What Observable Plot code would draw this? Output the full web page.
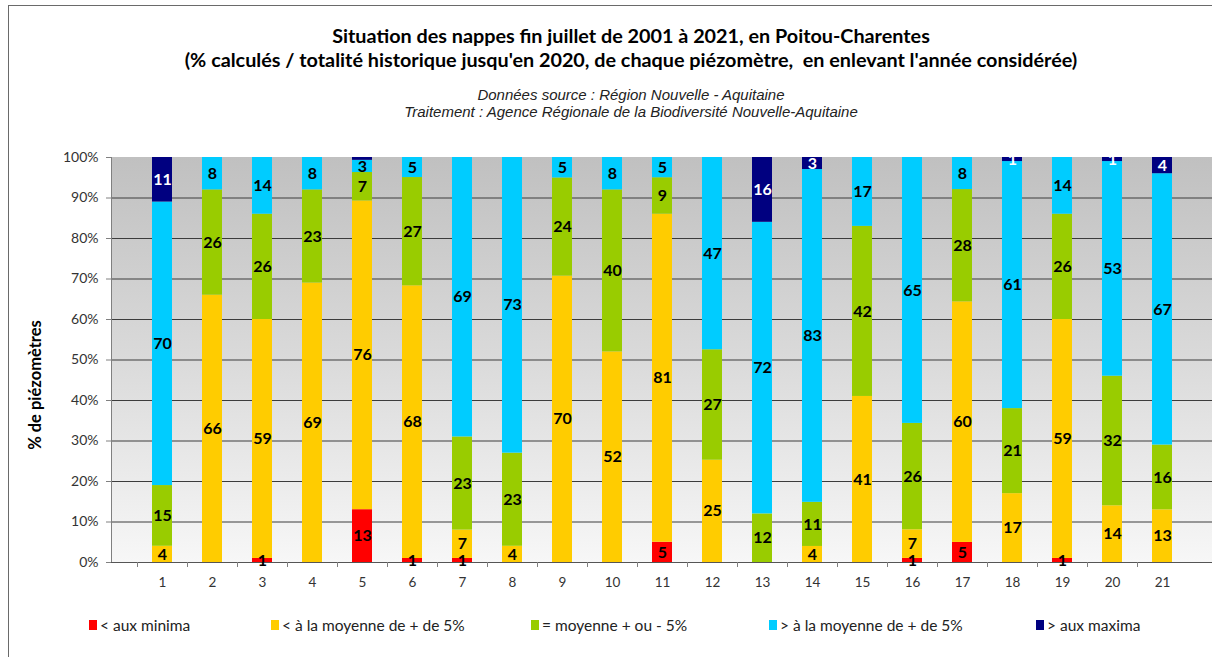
<!DOCTYPE html>
<html>
<head>
<meta charset="utf-8">
<script src="https://cdn.jsdelivr.net/npm/d3@7"></script>
<script src="https://cdn.jsdelivr.net/npm/@observablehq/plot@0.6"></script>
<style>
  html, body { margin: 0; padding: 0; background: #fff; }
  #wrap { position: relative; width: 1212px; height: 657px; overflow: hidden; font-family: Lato, "Open Sans", sans-serif; }
  #border { position: absolute; left: 8px; top: 5px; width: 1300px; height: 700px; border-left: 1px solid #6a6a6a; border-top: 1px solid #6a6a6a; box-sizing: border-box; pointer-events: none; }
  .t { position: absolute; left: 0; width: 1262px; text-align: center; color: #000; white-space: pre; }
  .t1 { font-weight: bold; font-size: 19.8px; }
  .t2 { font-style: italic; font-size: 15px; font-family: "Liberation Sans", Arial, sans-serif; color: #222; }
  #chart { position: absolute; left: 0; top: 140px; }
  #ytitle { position: absolute; left: 35px; top: 385px; transform: translate(-50%, -50%) rotate(-90deg); font-weight: bold; font-size: 16.5px; white-space: nowrap; color: #000; }
  .lg { position: absolute; top: 616px; font-size: 15.5px; color: #222; display: flex; align-items: center; white-space: nowrap; }
  .sw { width: 8px; height: 10px; margin-right: 3px; }
</style>
</head>
<body>
<div id="wrap">
  <div class="t t1" style="top:23px">Situation des nappes fin juillet de 2001 à 2021, en Poitou-Charentes</div>
  <div class="t t1" style="top:47px">(% calculés / totalité historique jusqu'en 2020, de chaque piézomètre,  en enlevant l'année considérée)</div>
  <div class="t t2" style="top:86px">Données source : Région Nouvelle - Aquitaine</div>
  <div class="t t2" style="top:103px">Traitement : Agence Régionale de la Biodiversité Nouvelle-Aquitaine</div>
  <div id="chart"></div>
  <div id="ytitle">% de piézomètres</div>
  <div id="legend"></div>
  <div id="border"></div>
</div>
<script>
const years = ["1","2","3","4","5","6","7","8","9","10","11","12","13","14","15","16","17","18","19","20","21"];
const categories = ["< aux minima", "< à la moyenne de + de 5%", "= moyenne + ou - 5%", "> à la moyenne de + de 5%", "> aux maxima"];
const colors = ["#ff0000", "#ffcc00", "#99cc00", "#00ccff", "#000080"];

const minima  = [0, 0, 1, 0, 13, 1, 1, 0, 0, 0, 5, 0, 0, 0, 0, 1, 5, 0, 1, 0, 0];
const below   = [4, 66, 59, 69, 76, 68, 7, 4, 70, 52, 81, 25, 0, 4, 41, 7, 60, 17, 59, 14, 13];
const average = [15, 26, 26, 23, 7, 27, 23, 23, 24, 40, 9, 27, 12, 11, 42, 26, 28, 21, 26, 32, 16];
const above   = [70, 8, 14, 8, 3, 5, 69, 73, 5, 8, 5, 47, 72, 83, 17, 65, 8, 61, 14, 53, 67];
const maxima  = [11, 0, 0, 0, 0.7, 0, 0, 0, 0, 0, 0, 0, 16, 3, 0, 0, 0, 1, 0, 1, 4];

const yTicks = [0, 0.1, 0.2, 0.3, 0.4, 0.5, 0.6, 0.7, 0.8, 0.9, 1];
const gridTicks = [0.1, 0.2, 0.3, 0.4, 0.5, 0.6, 0.7, 0.8, 0.9];

const series = [minima, below, average, above, maxima];
const data = [];
years.forEach((y, i) => {
  categories.forEach((c, k) => {
    data.push({x: y, cat: c, value: series[k][i]});
  });
});

const bgMark = (index, scales, values, dims) => {
  const ns = "http://www.w3.org/2000/svg";
  const g = document.createElementNS(ns, "g");
  const defs = document.createElementNS(ns, "defs");
  const lg = document.createElementNS(ns, "linearGradient");
  lg.setAttribute("id", "bggrad");
  lg.setAttribute("x1", "0"); lg.setAttribute("y1", "0");
  lg.setAttribute("x2", "0"); lg.setAttribute("y2", "1");
  [["0", "#c0c0c0"], ["0.5", "#dadada"], ["1", "#f7f7f7"]].forEach(([o, c]) => {
    const s = document.createElementNS(ns, "stop");
    s.setAttribute("offset", o); s.setAttribute("stop-color", c);
    lg.appendChild(s);
  });
  defs.appendChild(lg);
  g.appendChild(defs);
  const r = document.createElementNS(ns, "rect");
  r.setAttribute("x", dims.marginLeft);
  r.setAttribute("y", dims.marginTop);
  r.setAttribute("width", dims.width - dims.marginLeft - dims.marginRight);
  r.setAttribute("height", dims.height - dims.marginTop - dims.marginBottom);
  r.setAttribute("fill", "url(#bggrad)");
  g.appendChild(r);
  return g;
};

const axisMark = (index, scales, values, dims) => {
  const ns = "http://www.w3.org/2000/svg";
  const g = document.createElementNS(ns, "g");
  g.setAttribute("stroke", "#808080");
  const x0 = dims.marginLeft + 0.5;
  const yb = dims.height - dims.marginBottom;
  const v = document.createElementNS(ns, "line");
  v.setAttribute("x1", x0); v.setAttribute("x2", x0);
  v.setAttribute("y1", dims.marginTop); v.setAttribute("y2", yb);
  g.appendChild(v);
  const xs = scales.x;
  const step = xs.step ? xs.step() : (xs.bandwidth() / 0.4);
  const bw = xs.bandwidth();
  const bounds = years.map(y => xs(y) + bw / 2 - step / 2);
  bounds.forEach(b => {
    const t = document.createElementNS(ns, "line");
    const bx = Math.round(b) + 0.5;
    t.setAttribute("x1", bx); t.setAttribute("x2", bx);
    t.setAttribute("y1", yb); t.setAttribute("y2", yb + 5);
    g.appendChild(t);
  });
  return g;
};

const chart = Plot.plot({
  width: 1212,
  height: 460,
  marginLeft: 111,
  marginRight: 0,
  marginTop: 17,
  marginBottom: 38,
  style: {fontFamily: "Lato, 'Open Sans', sans-serif", fontSize: "13px", background: "transparent", overflow: "visible"},
  x: {domain: years, padding: 0.6, label: null},
  y: {domain: [0, 1], label: null},
  color: {domain: categories, range: colors},
  marks: [
    bgMark,
    Plot.gridY(gridTicks, {stroke: "#3c3c3c", strokeOpacity: 1, strokeWidth: 1}),
    Plot.barY(data, {x: "x", y: "value", fill: "cat", offset: "normalize", order: null}),
    Plot.ruleY([0], {stroke: "#555"}),
    axisMark,
    Plot.text(data, Plot.stackY({
      x: "x", y: "value", z: "cat", offset: "normalize", order: null,
      text: d => d.value >= 1 ? String(d.value) : "",
      fill: d => d.cat === categories[4] ? "white" : "black",
      fontWeight: "bold", fontSize: 16
    })),
    Plot.axisY(yTicks, {tickFormat: d3.format(".0%"), tickSize: 5, tickPadding: 8, stroke: "#808080", fill: "#333", fontSize: 14}),
    Plot.axisX({tickSize: 0, tickPadding: 15, fill: "#333", fontSize: 13.5})
  ]
});
document.getElementById("chart").appendChild(chart);

const legendX = [89, 271, 531, 769, 1036];
const leg = document.getElementById("legend");
categories.forEach((c, i) => {
  const d = document.createElement("div");
  d.className = "lg";
  d.style.left = legendX[i] + "px";
  d.innerHTML = `<span class="sw" style="background:${colors[i]}"></span><span></span>`;
  d.lastChild.textContent = c;
  leg.appendChild(d);
});
</script>
</body>
</html>
